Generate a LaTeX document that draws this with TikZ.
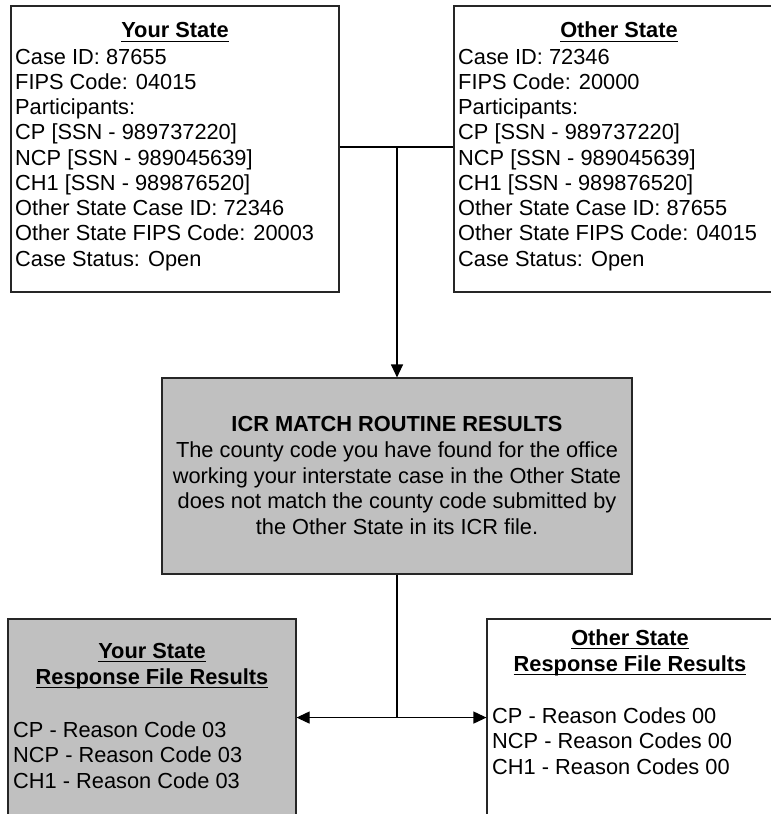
\documentclass[tikz,border=0pt]{standalone}
\usepackage{fontspec}
\setmainfont{Liberation Sans}
\usetikzlibrary{arrows.meta}
% underline drawn as a rule just under the baseline
\newcommand\ulin[1]{\leavevmode\setbox0\hbox{#1}\rlap{\rule[-4.2bp]{\wd0}{1.4bp}}\box0}
% fixes the distance from a node's top to its first baseline
\newcommand\tstrut{\rule{0pt}{17bp}}
\definecolor{boxgray}{HTML}{C0C0C0}
\definecolor{edge}{HTML}{262626}
\begin{document}
\begin{tikzpicture}[x=1bp,y=-1bp,
  box/.style={draw=edge, line width=1.1bp, inner sep=0, rectangle},
  shaded/.style={box, fill=boxgray},
  txt/.style={inner sep=0, align=left, font=\fontsize{21.8bp}{25.25bp}\selectfont},
  ctxt/.style={inner sep=0, align=center, font=\fontsize{21.8bp}{25.9bp}\selectfont},
  btxt/.style={inner sep=0, align=left, font=\fontsize{21.8bp}{25.6bp}\selectfont},
  arr/.style={draw=black, line width=1.1bp, -{Triangle[length=13bp,width=12bp]}},
  link/.style={draw=black, line width=1.1bp}]
\useasboundingbox (0,0) rectangle (771,814);

% case boxes
\node[box, minimum width=328bp, minimum height=286bp] (ys) at (175,149) {};
\node[box, minimum width=330bp, minimum height=286bp] (os) at (619,149) {};
\node[txt, anchor=base] (ysh) at (175,38) {\textbf{\ulin{Your State}}};
\node[txt, anchor=north west] (ysb) at (15,47) {\tstrut Case ID: 87655\\
FIPS Code: 04015\\
Participants:\\
CP [SSN - 989737220]\\
NCP [SSN - 989045639]\\
CH1 [SSN - 989876520]\\
Other State Case ID: 72346\\
Other State FIPS Code: 20003\\
Case Status: Open};
\node[txt, anchor=base] (osh) at (619,38) {\textbf{\ulin{Other State}}};
\node[txt, anchor=north west] (osb) at (458,47) {\tstrut Case ID: 72346\\
FIPS Code: 20000\\
Participants:\\
CP [SSN - 989737220]\\
NCP [SSN - 989045639]\\
CH1 [SSN - 989876520]\\
Other State Case ID: 87655\\
Other State FIPS Code: 04015\\
Case Status: Open};

% match routine box
\node[shaded, minimum width=470bp, minimum height=196bp] (icr) at (397,476) {};
\node[ctxt, anchor=north] (icrt) at (397,414) {\tstrut\textbf{ICR MATCH ROUTINE RESULTS}\\
The county code you have found for the office\\
working your interstate case in the Other State\\
does not match the county code submitted by\\
the Other State in its ICR file.};

% response file boxes
\node[shaded, minimum width=288bp, minimum height=220bp] (yr) at (152,729) {};
\node[box, minimum width=288bp, minimum height=220bp] (orr) at (631,729) {};
\node[ctxt, anchor=north] (yrh) at (152,641) {\tstrut\textbf{\ulin{Your State}}\\ \textbf{\ulin{Response File Results}}};
\node[btxt, anchor=north west] (yrb) at (13,720) {\tstrut CP - Reason Code 03\\
NCP - Reason Code 03\\
CH1 - Reason Code 03};
\node[ctxt, anchor=north] (orh) at (630,628) {\tstrut\textbf{\ulin{Other State}}\\ \textbf{\ulin{Response File Results}}};
\node[btxt, anchor=north west] (orb) at (492,706) {\tstrut CP - Reason Codes 00\\
NCP - Reason Codes 00\\
CH1 - Reason Codes 00};

% connectors
\coordinate (t) at ([yshift=2bp]ys.east);
\draw[link] (t) -- (os.west |- t);
\draw[arr] (t -| icr.north) -- (icr.north);
\coordinate (j) at ([yshift=-143bp]icr.south);
\draw[link] (icr.south) -- (j);
\draw[arr] (j) -- (j -| yr.east);
\draw[arr] (j) -- (j -| orr.west);
\end{tikzpicture}
\end{document}
